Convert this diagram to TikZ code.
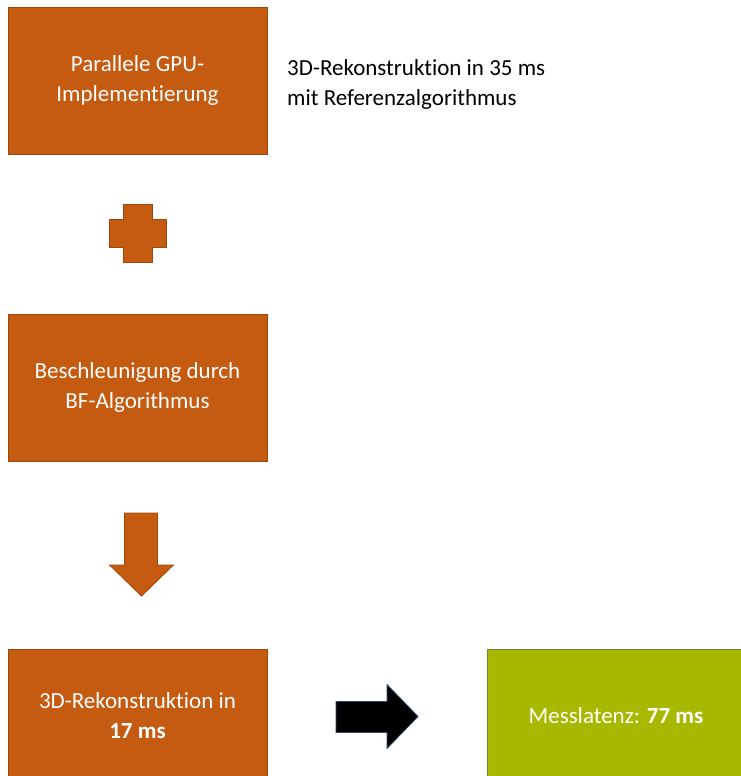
\documentclass[tikz,border=0pt]{standalone}
\usepackage{fontspec}
\setmainfont{Carlito}[Ligatures=NoCommon]
\usepackage{tikz}
\usetikzlibrary{positioning}
\definecolor{boxorange}{RGB}{197,90,17}
\definecolor{boxedge}{RGB}{158,72,14}
\definecolor{boxgreen}{RGB}{168,184,0}
\definecolor{greenedge}{RGB}{108,134,52}
\definecolor{arrowedge}{RGB}{48,74,116}

\begin{document}
\begin{tikzpicture}[x=1pt,y=-1pt,
    stagebox/.style={draw=boxedge,fill=boxorange,line width=0.8pt,
      minimum width=259pt,minimum height=147pt,inner sep=0pt,
      text=white,align=center,font=\fontsize{23}{30}\selectfont},
    resultbox/.style={stagebox,draw=greenedge,fill=boxgreen,minimum width=258pt},
    note/.style={inner sep=0pt,align=left,font=\fontsize{23}{30}\selectfont},
    sign/.style={draw=boxedge,fill=boxorange,line width=0.8pt,line join=miter},
    blackarrow/.style={draw=arrowedge,fill=black,line width=0.8pt}
  ]
  \useasboundingbox (0,0) rectangle (740,776);

  % Stages
  \node[stagebox] (gpu) at (137.5,80.5) {Parallele GPU-\\Implementierung};
  \node[stagebox] (bf) at (137.5,387.5) {Beschleunigung durch\\BF-Algorithmus};
  \node[stagebox,minimum height=134pt] (rec) at (137.5,716)
    {3D-Rekonstruktion in\\\textbf{17 ms}};
  \node[resultbox,minimum height=134pt] (lat) at (616,716)
    {Messlatenz: \textbf{77 ms}};

  % Reference note
  \node[note,anchor=north west] (ref) at (287,59)
    {3D-Rekonstruktion in 35 ms\\mit Referenzalgorithmus};

  % Plus sign
  \coordinate (plus) at (137.5,233);
  \draw[sign] (plus) ++(-14.5,-29) -- ++(29,0) -- ++(0,15) -- ++(14,0)
    -- ++(0,28) -- ++(-14,0) -- ++(0,15) -- ++(-29,0) -- ++(0,-15)
    -- ++(-14,0) -- ++(0,-28) -- ++(14,0) -- cycle;

  % Down arrow
  \coordinate (down) at (141,513);
  \draw[sign] (down) ++(-16.5,0) -- ++(33,0) -- ++(0,52) -- ++(16,0)
    -- ++(-32,31) -- ++(-32,-31) -- ++(15,0) -- cycle;

  % Right arrow
  \coordinate (right) at (336,717);
  \draw[blackarrow] (right) ++(0,-15.5) -- ++(51,0) -- ++(0,-17) -- ++(31,32)
    -- ++(-31,32) -- ++(0,-16) -- ++(-51,0) -- cycle;

\end{tikzpicture}
\end{document}
